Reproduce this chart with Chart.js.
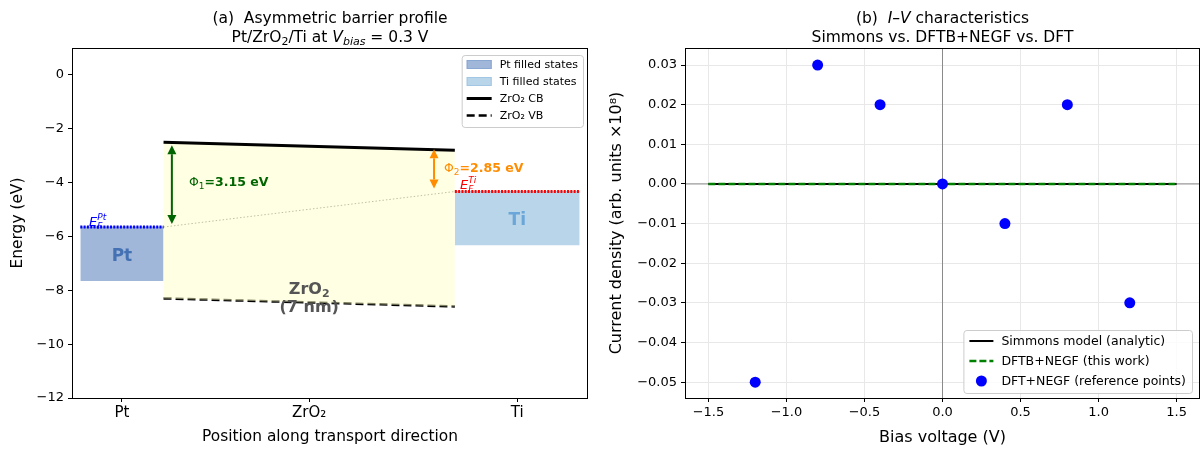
<!DOCTYPE html>
<html>
<head>
<meta charset="utf-8">
<script src="https://cdn.jsdelivr.net/npm/chart.js@4.4.0/dist/chart.umd.min.js"></script>
<style>
    body { margin: 0; background: #fff; width: 1202px; height: 451px; overflow: hidden; position: relative; }
    .panel { position: absolute; top: 0; width: 601px; height: 451px; }
</style>
</head>
<body>
<div class="panel" style="left:0"><canvas id="bandChart" width="601" height="451"></canvas></div>
<div class="panel" style="left:601px"><canvas id="ivChart" width="601" height="451"></canvas></div>
<script>
// panel (a): band profile
const regionTicks = [-1, 3.5, 8.5]
const regionLabels = ['Pt', 'ZrO₂', 'Ti']
const energyTicks = [0, -2, -4, -6, -8, -10, -12]
const ptEdges = [-2, 0]
const ptFermi = -5.65
const ptBottom = -7.65
const tiEdges = [7, 10]
const tiFermi = -4.33
const tiBottom = -6.33
const oxideEdges = [0, 7]
const cbEnergy = [-2.5, -2.8]
const vbEnergy = [-8.3, -8.6]

// panel (b): I-V curves
const biasVoltage = [-1.5, -1.0, -0.5, 0, 0.5, 1.0, 1.5]
const simmonsCurrent = [0, 0, 0, 0, 0, 0, 0]
const dftbCurrent = [0, 0, 0, 0, 0, 0, 0]
const dftVoltage = [-1.2, -0.8, -0.4, 0, 0.4, 0.8, 1.2]
const dftCurrent = [-0.05, 0.03, 0.02, 0, -0.01, 0.02, -0.03]
const voltageTicks = [-1.5, -1.0, -0.5, 0, 0.5, 1.0, 1.5]
const currentTicks = [0.03, 0.02, 0.01, 0, -0.01, -0.02, -0.03, -0.04, -0.05]

const FONT = '"DejaVu Sans", sans-serif'
const minus = s => s.replace('-', '\u2212')
const pts = (xs, ys) => xs.map((x, i) => ({x, y: ys[i]}))

// draws a run of differently styled pieces; a piece with stack:true does not move the pen
function drawRich(ctx, parts, x, y, align = 'center') {
    let total = 0
    parts.forEach(p => {
        ctx.font = p.font
        p.w = ctx.measureText(p.text).width
        if (!p.stack) total += p.w
    })
    let cx = align === 'center' ? x - total / 2 : x
    ctx.textAlign = 'left'
    ctx.textBaseline = 'alphabetic'
    parts.forEach(p => {
        ctx.font = p.font
        if (p.color) ctx.fillStyle = p.color
        ctx.fillText(p.text, cx, y + (p.dy || 0))
        if (!p.stack) cx += p.w
    })
}

function arrow(ctx, x, y1, y2, color) {
    const head = 9, half = 4.5
    const dir = y2 > y1 ? 1 : -1
    ctx.save()
    ctx.strokeStyle = color
    ctx.fillStyle = color
    ctx.lineWidth = 2
    ctx.beginPath()
    ctx.moveTo(x, y1 + dir * head)
    ctx.lineTo(x, y2 - dir * head)
    ctx.stroke()
    ;[[y1, dir], [y2, -dir]].forEach(([tip, d]) => {
        ctx.beginPath()
        ctx.moveTo(x, tip)
        ctx.lineTo(x - half, tip + d * head)
        ctx.lineTo(x + half, tip + d * head)
        ctx.closePath()
        ctx.fill()
    })
    ctx.restore()
}

const frame = {
    id: 'frame',
    afterDraw(chart) {
        const {ctx, chartArea: a} = chart
        ctx.save()
        ctx.strokeStyle = '#000'
        ctx.lineWidth = 1
        ctx.strokeRect(Math.round(a.left) + 0.5, Math.round(a.top) + 0.5, Math.round(a.width) - 1, Math.round(a.height))
        ctx.restore()
    }
}

const legendBox = {
    id: 'legendBox',
    afterDraw(chart, args, o) {
        const {ctx, chartArea: a} = chart
        const items = chart.data.datasets.filter(d => d.legend).sort((p, q) => p.rank - q.rank)
        ctx.save()
        ctx.font = `${o.size}px ${FONT}`
        const textW = Math.max(...items.map(d => ctx.measureText(d.label).width))
        const w = o.pad + o.handle + o.gap + textW + o.pad
        const h = items.length * o.row + o.extra
        const left = a.right - o.right - w
        const top = o.corner === 'top' ? a.top + o.offset : a.bottom - o.offset - h
        ctx.beginPath()
        ctx.roundRect(left + 0.5, top + 0.5, w, h, 3)
        ctx.fillStyle = 'rgba(255,255,255,0.8)'
        ctx.fill()
        ctx.strokeStyle = '#cccccc'
        ctx.lineWidth = 1
        ctx.stroke()
        items.forEach((d, i) => {
            const cy = top + o.first + i * o.row
            const hx = left + o.pad
            if (d.legend === 'patch') {
                ctx.fillStyle = d.backgroundColor
                ctx.fillRect(hx, cy - 4.5, o.handle, 9)
                ctx.strokeStyle = d.borderColor
                ctx.lineWidth = 1
                ctx.strokeRect(hx + 0.5, cy - 4, o.handle - 1, 8)
            } else if (d.legend === 'line') {
                ctx.strokeStyle = d.borderColor
                ctx.lineWidth = d.borderWidth
                ctx.setLineDash(d.borderDash || [])
                ctx.beginPath()
                ctx.moveTo(hx, cy)
                ctx.lineTo(hx + o.handle, cy)
                ctx.stroke()
                ctx.setLineDash([])
            } else {
                ctx.fillStyle = d.backgroundColor
                ctx.beginPath()
                ctx.arc(hx + o.handle / 2, cy, 5.5, 0, Math.PI * 2)
                ctx.fill()
            }
            ctx.fillStyle = '#000'
            ctx.font = `${o.size}px ${FONT}`
            ctx.textBaseline = 'middle'
            ctx.textAlign = 'left'
            ctx.fillText(d.label, hx + o.handle + o.gap, cy + 0.5)
        })
        ctx.restore()
    }
}

const bandNotes = {
    id: 'bandNotes',
    afterDatasetsDraw(chart) {
        const {ctx, scales: {x, y}} = chart
        ctx.save()
        // titles
        ctx.fillStyle = '#000'
        const mid = (chart.chartArea.left + chart.chartArea.right) / 2
        drawRich(ctx, [{text: '(a)  Asymmetric barrier profile', font: `15.5px ${FONT}`}], mid, 23)
        drawRich(ctx, [
            {text: 'Pt/ZrO', font: `15.5px ${FONT}`},
            {text: '2', font: `11px ${FONT}`, dy: 3},
            {text: '/Ti at ', font: `15.5px ${FONT}`},
            {text: 'V', font: `italic 15.5px ${FONT}`},
            {text: 'bias', font: `italic 11px ${FONT}`, dy: 3},
            {text: ' = 0.3 V', font: `15.5px ${FONT}`}
        ], mid, 41.5)

        // barrier arrows
        arrow(ctx, x.getPixelForValue(0.2), y.getPixelForValue(cbEnergy[0]) + 3, y.getPixelForValue(ptFermi) - 3, '#006400')
        arrow(ctx, x.getPixelForValue(6.5), y.getPixelForValue(cbEnergy[1]) - 1, y.getPixelForValue(tiFermi) - 3, '#ff8c00')
        drawRich(ctx, [
            {text: 'Φ', font: `12.5px ${FONT}`, color: '#006400'},
            {text: '1', font: `9px ${FONT}`, dy: 2.5},
            {text: '=3.15 eV', font: `bold 12.5px ${FONT}`}
        ], 189, 186, 'left')
        drawRich(ctx, [
            {text: 'Φ', font: `12.5px ${FONT}`, color: '#ff8c00'},
            {text: '2', font: `9px ${FONT}`, dy: 2.5},
            {text: '=2.85 eV', font: `bold 12.5px ${FONT}`}
        ], 444, 172, 'left')

        // Fermi level labels
        drawRich(ctx, [
            {text: 'E', font: `italic 13px ${FONT}`, color: '#0000ff'},
            {text: 'Pt', font: `italic 9px ${FONT}`, dy: -6, stack: true},
            {text: 'F', font: `italic 9px ${FONT}`, dy: 3}
        ], 89, 226, 'left')
        drawRich(ctx, [
            {text: 'E', font: `italic 13px ${FONT}`, color: '#ff0000'},
            {text: 'Ti', font: `italic 9px ${FONT}`, dy: -6, stack: true},
            {text: 'F', font: `italic 9px ${FONT}`, dy: 3}
        ], 460, 189, 'left')

        // region labels
        ctx.fillStyle = 'rgba(45,95,170,0.8)'
        ctx.font = `bold 17px ${FONT}`
        ctx.textAlign = 'center'
        ctx.textBaseline = 'alphabetic'
        ctx.fillText('Pt', x.getPixelForValue(regionTicks[0]), 261)
        ctx.fillStyle = 'rgba(80,150,210,0.75)'
        ctx.fillText('Ti', x.getPixelForValue(regionTicks[2]), 225)
        drawRich(ctx, [
            {text: 'ZrO', font: `bold 16px ${FONT}`, color: '#555555'},
            {text: '2', font: `bold 11px ${FONT}`, dy: 3}
        ], x.getPixelForValue(regionTicks[1]), 294)
        drawRich(ctx, [{text: '(7 nm)', font: `bold 16px ${FONT}`, color: '#555555'}], x.getPixelForValue(regionTicks[1]), 312)
        ctx.restore()
    }
}

const ivNotes = {
    id: 'ivNotes',
    afterDatasetsDraw(chart) {
        const {ctx, chartArea} = chart
        ctx.save()
        ctx.fillStyle = '#000'
        const mid = (chartArea.left + chartArea.right) / 2
        drawRich(ctx, [
            {text: '(b)  ', font: `15.5px ${FONT}`},
            {text: 'I–V', font: `italic 15.5px ${FONT}`},
            {text: ' characteristics', font: `15.5px ${FONT}`}
        ], mid, 23)
        drawRich(ctx, [{text: 'Simmons vs. DFTB+NEGF vs. DFT', font: `15.5px ${FONT}`}], mid, 41.5)
        ctx.restore()
    }
}

const tickFont = {family: FONT, size: 13}
const regionFont = {family: FONT, size: 15}
const labelFont = {family: FONT, size: 15.4}
const ivLabelFont = {family: FONT, size: 16}

const fixX = h => s => { s.height = h; s.paddingLeft = 0; s.paddingRight = 0 }
const fixY = w => s => { s.width = w; s.paddingTop = 0; s.paddingBottom = 0 }

new Chart(document.getElementById('bandChart'), {
    type: 'line',
    data: {
        datasets: [
            {label: 'Pt filled states', legend: 'patch', rank: 0, data: pts(ptEdges, [ptFermi, ptFermi]),
                fill: {value: ptBottom}, backgroundColor: '#a0b7d9', borderColor: '#8aa7d2', borderWidth: 1, pointRadius: 0, order: 6},
            {label: 'Ti filled states', legend: 'patch', rank: 1, data: pts(tiEdges, [tiFermi, tiFermi]),
                fill: {value: tiBottom}, backgroundColor: '#b8d5e9', borderColor: '#a3c7e3', borderWidth: 1, pointRadius: 0, order: 6},
            {label: 'ZrO₂ CB', legend: 'line', rank: 2, data: pts(oxideEdges, cbEnergy),
                fill: '+1', backgroundColor: 'rgba(255,255,200,0.5)', borderColor: '#000', borderWidth: 3, pointRadius: 0, order: 2},
            {label: 'ZrO₂ VB', legend: 'line', rank: 3, data: pts(oxideEdges, vbEnergy),
                borderColor: '#000', borderWidth: 2.5, borderDash: [8, 4], pointRadius: 0, order: 2},
            {data: pts([ptEdges[1], tiEdges[0]], [ptFermi, tiFermi]),
                borderColor: '#808080', borderWidth: 1, borderDash: [1.5, 2], pointRadius: 0, order: 4},
            {data: pts(ptEdges, [ptFermi, ptFermi]),
                borderColor: '#0000ff', borderWidth: 3, borderDash: [2, 1.3], pointRadius: 0, order: 1},
            {data: pts(tiEdges, [tiFermi, tiFermi]),
                borderColor: '#ff0000', borderWidth: 3, borderDash: [2, 1.3], pointRadius: 0, order: 1}
        ]
    },
    options: {
        responsive: false,
        animation: false,
        layout: {autoPadding: false, padding: {left: 0, top: 48, right: 13, bottom: 0}},
        plugins: {
            legend: {display: false},
            tooltip: {enabled: false},
            legendBox: {size: 11, pad: 5, handle: 25, gap: 8, row: 17, extra: 4, first: 9.5, right: 5, offset: 7, corner: 'top'}
        },
        scales: {
            x: {
                type: 'linear', min: -2.2, max: 10.2,
                afterBuildTicks: s => { s.ticks = regionTicks.map(v => ({value: v})) },
                afterFit: fixX(53),
                ticks: {font: regionFont, color: '#000', padding: 2, maxRotation: 0,
                    callback: (v, i) => regionLabels[i]},
                grid: {drawOnChartArea: false, tickLength: 4, tickColor: '#000'},
                border: {display: false},
                title: {display: true, text: 'Position along transport direction', font: labelFont, color: '#000', padding: {top: 0, bottom: 5}}
            },
            y: {
                min: -12, max: 1,
                afterBuildTicks: s => { s.ticks = energyTicks.map(v => ({value: v})) },
                afterFit: fixY(72),
                ticks: {font: tickFont, color: '#000', padding: 4, callback: v => minus(String(v))},
                grid: {drawOnChartArea: false, tickLength: 4, tickColor: '#000'},
                border: {display: false},
                title: {display: true, text: 'Energy (eV)', font: labelFont, color: '#000', padding: {top: 9, bottom: 0}}
            }
        }
    },
    plugins: [bandNotes, frame, legendBox]
})

new Chart(document.getElementById('ivChart'), {
    type: 'line',
    data: {
        datasets: [
            {label: 'DFT+NEGF (reference points)', legend: 'marker', rank: 2, data: pts(dftVoltage, dftCurrent),
                showLine: false, backgroundColor: '#0000ff', borderWidth: 0, pointRadius: 5.5, order: 0},
            {label: 'DFTB+NEGF (this work)', legend: 'line', rank: 1, data: pts(biasVoltage, dftbCurrent),
                borderColor: '#008000', borderWidth: 2.5, borderDash: [7, 3], pointRadius: 0, order: 1},
            {label: 'Simmons model (analytic)', legend: 'line', rank: 0, data: pts(biasVoltage, simmonsCurrent),
                borderColor: '#000', borderWidth: 2, pointRadius: 0, order: 2},
            {data: pts([-1.65, 1.65], [0, 0]), borderColor: 'rgba(128,128,128,0.9)', borderWidth: 1, pointRadius: 0, order: 3},
            {data: pts([0, 0], [-0.054, 0.0343]), borderColor: 'rgba(128,128,128,0.9)', borderWidth: 1, pointRadius: 0, order: 3}
        ]
    },
    options: {
        responsive: false,
        animation: false,
        layout: {autoPadding: false, padding: {left: 0, top: 48, right: 2, bottom: 0}},
        plugins: {
            legend: {display: false},
            tooltip: {enabled: false},
            legendBox: {size: 12.5, pad: 6, handle: 24, gap: 8, row: 20, extra: 3, first: 11, right: 8, offset: 5, corner: 'bottom'}
        },
        scales: {
            x: {
                type: 'linear', min: -1.65, max: 1.65,
                afterBuildTicks: s => { s.ticks = voltageTicks.map(v => ({value: v})) },
                afterFit: fixX(53),
                ticks: {font: tickFont, color: '#000', padding: 3, maxRotation: 0, callback: v => minus(v.toFixed(1))},
                grid: {color: '#e8e8e8', lineWidth: 1, tickLength: 4, tickColor: '#000'},
                border: {display: false},
                title: {display: true, text: 'Bias voltage (V)', font: ivLabelFont, color: '#000', padding: {top: 0, bottom: 4}}
            },
            y: {
                min: -0.054, max: 0.0343,
                afterBuildTicks: s => { s.ticks = currentTicks.map(v => ({value: v})) },
                afterFit: fixY(84),
                ticks: {font: tickFont, color: '#000', padding: 4, callback: v => minus(v.toFixed(2))},
                grid: {color: '#e8e8e8', lineWidth: 1, tickLength: 4, tickColor: '#000'},
                border: {display: false},
                title: {display: true, text: 'Current density (arb. units ×10⁸)', font: ivLabelFont, color: '#000', padding: {top: 6, bottom: 0}}
            }
        }
    },
    plugins: [ivNotes, frame, legendBox]
})
</script>
</body>
</html>
